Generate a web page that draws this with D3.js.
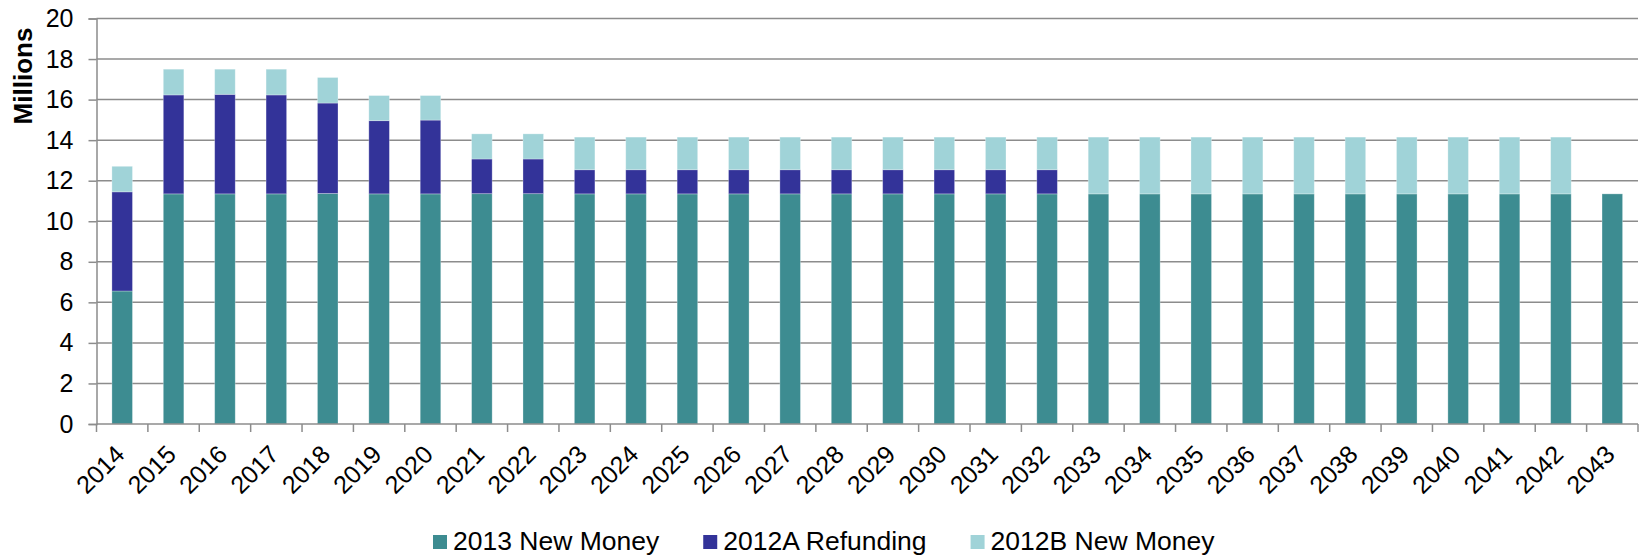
<!DOCTYPE html>
<html>
<head>
<meta charset="utf-8">
<script src="https://cdn.jsdelivr.net/npm/d3@7"></script>
<style>
    body { margin: 0; background: #fff; }
    text { font-family: Arial, "Liberation Sans", sans-serif; fill: #000; }
</style>
</head>
<body>
<div id="chart_canvas"></div>
<script>

// ----------------------------------------------------------------------

const years = d3.range(2014, 2044).map(String);

// values in millions, stacked bottom to top
const newMoney2013 = [6.56, 11.35, 11.35, 11.35, 11.37, 11.35, 11.35, 11.36, 11.36, 11.35,
                      11.35, 11.35, 11.35, 11.35, 11.35, 11.35, 11.35, 11.35, 11.35, 11.35,
                      11.35, 11.35, 11.35, 11.35, 11.35, 11.35, 11.35, 11.35, 11.35, 11.35];
const refunding2012A = [4.89, 4.88, 4.91, 4.88, 4.46, 3.61, 3.64, 1.71, 1.71, 1.19,
                        1.19, 1.19, 1.19, 1.19, 1.19, 1.19, 1.19, 1.19, 1.19, 0,
                        0, 0, 0, 0, 0, 0, 0, 0, 0, 0];
const newMoney2012B = [1.26, 1.27, 1.24, 1.27, 1.26, 1.24, 1.21, 1.24, 1.24, 1.61,
                       1.61, 1.61, 1.61, 1.61, 1.61, 1.61, 1.61, 1.61, 1.61, 2.80,
                       2.80, 2.80, 2.80, 2.80, 2.80, 2.80, 2.80, 2.80, 2.80, 0];

const seriesNames = ["2013 New Money", "2012A Refunding", "2012B New Money"];
const seriesColors = ["#3d8c91", "#333399", "#a0d3d8"];
const yTicks = [0, 2, 4, 6, 8, 10, 12, 14, 16, 18, 20];

// ----------------------------------------------------------------------

const width = 1643;
const height = 556;
const margin = {top: 18.5, right: 5, bottom: 132, left: 96.5};

const svg = d3.select("#chart_canvas")
            .append("svg")
            .attr("width", width)
            .attr("height", height);

const table = years.map((y, i) => ({
    year: y,
    a: newMoney2013[i],
    b: refunding2012A[i],
    c: newMoney2012B[i]
}));

const stack = d3.stack().keys(["a", "b", "c"]);
const layers = stack(table);

const x = d3.scaleBand()
            .domain(years)
            .range([margin.left, width - margin.right])
            .paddingInner(0.6)
            .paddingOuter(0.3);

const y = d3.scaleLinear()
            .domain([0, 20])
            .range([height - margin.bottom, margin.top]);

// gridlines
svg.append("g")
    .selectAll("line")
    .data(yTicks.slice(1))
    .enter()
    .append("line")
    .attr("x1", margin.left)
    .attr("x2", width - margin.right)
    .attr("y1", d => y(d))
    .attr("y2", d => y(d))
    .attr("stroke", "#8c8c8c")
    .attr("stroke-width", 1.5);

// bars
svg.append("g")
    .selectAll("g")
    .data(layers)
    .enter()
    .append("g")
    .attr("fill", (d, i) => seriesColors[i])
    .selectAll("rect")
    .data(d => d.filter(p => p[1] - p[0] > 0))
    .enter()
    .append("rect")
    .attr("x", d => x(d.data.year))
    .attr("width", x.bandwidth())
    .attr("y", d => y(d[1]))
    .attr("height", d => y(d[0]) - y(d[1]))
    .attr("stroke", "#ffffff")
    .attr("stroke-opacity", 0.35)
    .attr("stroke-width", 0.8);

// y axis
const yAxis = svg.append("g")
    .attr("transform", `translate(${margin.left},0)`)
    .call(d3.axisLeft(y).tickValues(yTicks).tickSize(8).tickPadding(15));
yAxis.selectAll("line").attr("stroke", "#8c8c8c").attr("stroke-width", 1.5);
yAxis.select(".domain").attr("stroke", "#8c8c8c").attr("stroke-width", 1.5);
yAxis.selectAll("text")
    .style("font-size", "25px")
    .attr("fill", "#000");

// x axis: ticks at band boundaries
const step = x.step();
const x0 = margin.left;
const boundaries = d3.range(years.length + 1).map(i => x0 + i * step);

const xAxis = svg.append("g");
xAxis.append("line")
    .attr("x1", margin.left)
    .attr("x2", width - margin.right)
    .attr("y1", y(0))
    .attr("y2", y(0))
    .attr("stroke", "#8c8c8c")
    .attr("stroke-width", 1.5);
xAxis.selectAll(".tick")
    .data(boundaries)
    .enter()
    .append("line")
    .attr("x1", d => d)
    .attr("x2", d => d)
    .attr("y1", y(0))
    .attr("y2", y(0) + 8)
    .attr("stroke", "#8c8c8c")
    .attr("stroke-width", 1.5);
xAxis.selectAll("text")
    .data(years)
    .enter()
    .append("text")
    .attr("transform", d => `translate(${x(d) + x.bandwidth() / 2 + 4},${y(0) + 32}) rotate(-45)`)
    .attr("text-anchor", "end")
    .style("font-size", "25px")
    .text(d => d);

// axis title
svg.append("text")
    .attr("transform", "translate(32,76) rotate(-90)")
    .attr("text-anchor", "middle")
    .style("font-size", "26px")
    .style("font-weight", "bold")
    .text("Millions");

// legend
const legend = svg.append("g").attr("transform", "translate(0,550)");
let lx = 433;
seriesNames.forEach((name, i) => {
    legend.append("rect")
        .attr("x", lx)
        .attr("y", -15)
        .attr("width", 14)
        .attr("height", 14)
        .attr("fill", seriesColors[i]);
    const t = legend.append("text")
        .attr("x", lx + 20)
        .attr("y", 0)
        .style("font-size", "26.5px")
        .text(name);
    lx += 20 + t.node().getComputedTextLength() + 44;
});

// ----------------------------------------------------------------------

</script>
</body>
</html>
